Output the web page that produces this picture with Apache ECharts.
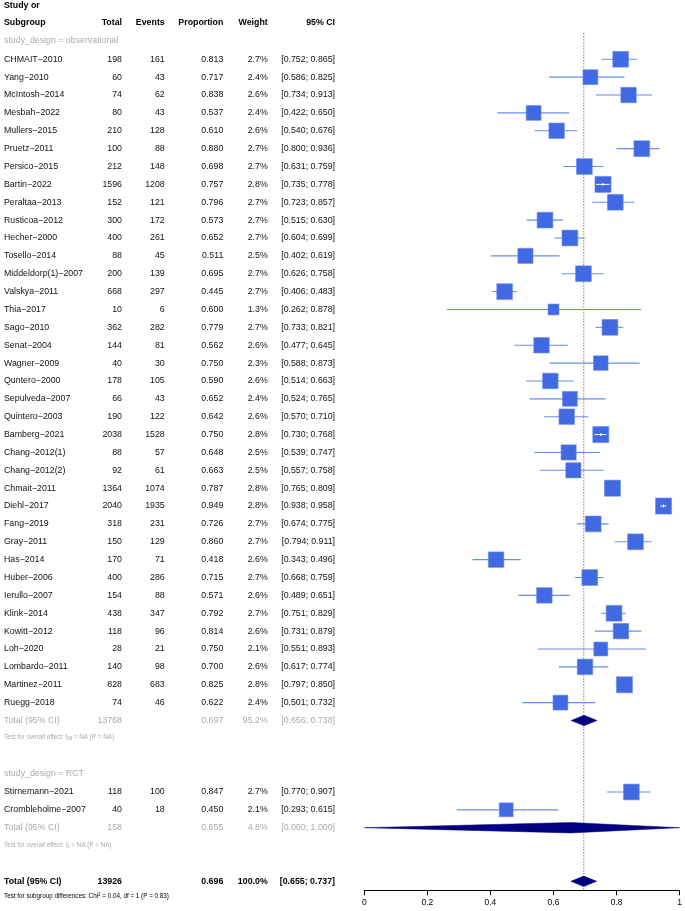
<!DOCTYPE html>
<html><head><meta charset="utf-8">
<script src="https://cdn.jsdelivr.net/npm/echarts@6/dist/echarts.min.js"></script>
<style>html,body{margin:0;padding:0;background:#fff}#c{width:685px;height:911px}</style>
</head><body><div id="c"></div>
<script>
// ---------------- DATA ----------------
const obsStudies = ["CHMAIT−2010","Yang−2010","McIntosh−2014","Mesbah−2022","Mullers−2015","Pruetz−2011","Persico−2015","Bartin−2022","Peraltaa−2013","Rusticoa−2012","Hecher−2000","Tosello−2014","Middeldorp(1)−2007","Valskya−2011","Thia−2017","Sago−2010","Senat−2004","Wagner−2009","Quntero−2000","Sepulveda−2007","Quintero−2003","Bamberg−2021","Chang−2012(1)","Chang−2012(2)","Chmait−2011","Diehl−2017","Fang−2019","Gray−2011","Has−2014","Huber−2006","Ierullo−2007","Klink−2014","Kowitt−2012","Loh−2020","Lombardo−2011","Martinez−2011","Ruegg−2018"];
const obsTotal = [198,60,74,80,210,100,212,1596,152,300,400,88,200,668,10,362,144,40,178,66,190,2038,88,92,1364,2040,318,150,170,400,154,438,118,28,140,828,74];
const obsEvents = [161,43,62,43,128,88,148,1208,121,172,261,45,139,297,6,282,81,30,105,43,122,1528,57,61,1074,1935,231,129,71,286,88,347,96,21,98,683,46];
const obsProp = [0.813,0.717,0.838,0.537,0.610,0.880,0.698,0.757,0.796,0.573,0.652,0.511,0.695,0.445,0.600,0.779,0.562,0.750,0.590,0.652,0.642,0.750,0.648,0.663,0.787,0.949,0.726,0.860,0.418,0.715,0.571,0.792,0.814,0.750,0.700,0.825,0.622];
const obsWeight = [2.7,2.4,2.6,2.4,2.6,2.7,2.7,2.8,2.7,2.7,2.7,2.5,2.7,2.7,1.3,2.7,2.6,2.3,2.6,2.4,2.6,2.8,2.5,2.5,2.8,2.8,2.7,2.7,2.6,2.7,2.6,2.7,2.6,2.1,2.6,2.8,2.4];
const obsLower = [0.752,0.586,0.734,0.422,0.540,0.800,0.631,0.735,0.723,0.515,0.604,0.402,0.626,0.406,0.262,0.733,0.477,0.588,0.514,0.524,0.570,0.730,0.539,0.557,0.765,0.938,0.674,0.794,0.343,0.668,0.489,0.751,0.731,0.551,0.617,0.797,0.501];
const obsUpper = [0.865,0.825,0.913,0.650,0.676,0.936,0.759,0.778,0.857,0.630,0.699,0.619,0.758,0.483,0.878,0.821,0.645,0.873,0.663,0.765,0.710,0.768,0.747,0.758,0.809,0.958,0.775,0.911,0.496,0.759,0.651,0.829,0.879,0.893,0.774,0.850,0.732];

const rctStudies = ["Stirnemann−2021","Crombleholme−2007"];
const rctTotal = [118,40];
const rctEvents = [100,18];
const rctProp = [0.847,0.450];
const rctWeight = [2.7,2.1];
const rctLower = [0.770,0.293];
const rctUpper = [0.907,0.615];

// summaries: [total, estimate, weight, lower, upper]
const obsSummary = [13768, 0.697, 95.2, 0.656, 0.738];
const rctSummary = [158, 0.655, 4.8, 0.000, 1.000];
const allSummary = [13926, 0.696, 100.0, 0.655, 0.737];

const headers = ["Subgroup","Total","Events","Proportion","Weight","95% CI"];
const subgroupLabels = ["study_design = observational","study_design = RCT"];
const xTicks = [0,0.2,0.4,0.6,0.8,1];

// ---------------- LAYOUT ----------------
const ROW0 = 59.3, ROWH = 17.87, YMIN = -3, YMAX = 46.5;
const gridTop = ROW0 + YMIN*ROWH;
const gridH = (YMAX - YMIN)*ROWH;
const COL = {name:4, total:122, events:164.7, prop:223.3, weight:267.7, ci:335};
const FONT = '"Liberation Sans", Arial, Helvetica, sans-serif';
const GRAY = '#aaaaaa';

const f3 = v => v.toFixed(3);
const pct = v => v.toFixed(1) + '%';
const ci = (l,u) => '[' + f3(l) + '; ' + f3(u) + ']';

const texts = [];
function T(x,row,text,align,kind){ texts.push({x,row,text,align,kind}); }
T(COL.name,-2.98,'Study or','left','head');
T(COL.name,-2.05,headers[0],'left','head');
T(COL.total,-2.05,headers[1],'right','head');
T(COL.events,-2.05,headers[2],'right','head');
T(COL.prop,-2.05,headers[3],'right','head');
T(COL.weight,-2.05,headers[4],'right','head');
T(COL.ci,-2.05,headers[5],'right','head');

function studyRows(names,tot,ev,p,w,lo,hi,startRow){
  names.forEach((n,i)=>{
    const r = startRow + i;
    T(COL.name,r,n,'left','study');
    T(COL.total,r,String(tot[i]),'right','study');
    T(COL.events,r,String(ev[i]),'right','study');
    T(COL.prop,r,f3(p[i]),'right','study');
    T(COL.weight,r,pct(w[i]),'right','study');
    T(COL.ci,r,ci(lo[i],hi[i]),'right','study');
  });
}
function totalRow(s,row,kind){
  T(COL.name,row,'Total (95% CI)','left',kind);
  T(COL.total,row,String(s[0]),'right',kind);
  T(COL.prop,row,f3(s[1]),'right',kind);
  T(COL.weight,row,pct(s[2]),'right',kind);
  T(COL.ci,row,ci(s[3],s[4]),'right',kind);
}
const obsStart = 0;
const rctStart = 41;
T(COL.name,-1.04,subgroupLabels[0],'left','sub');
studyRows(obsStudies,obsTotal,obsEvents,obsProp,obsWeight,obsLower,obsUpper,obsStart);
const obsTotRow = obsStart + obsStudies.length;
totalRow(obsSummary,obsTotRow,'total');
T(COL.name,obsTotRow+0.93,'Test for overall effect: t{sub|' + (obsStudies.length-1) + '} = NA (P = NA)','left','note');
T(COL.name,rctStart-1.04,subgroupLabels[1],'left','sub');
studyRows(rctStudies,rctTotal,rctEvents,rctProp,rctWeight,rctLower,rctUpper,rctStart);
const rctTotRow = rctStart + rctStudies.length;
totalRow(rctSummary,rctTotRow,'total');
T(COL.name,rctTotRow+0.97,'Test for overall effect: t{sub|' + (rctStudies.length-1) + '} = NA (P = NA)','left','note');
const allRow = rctTotRow + 3;
totalRow(allSummary,allRow,'grand');
T(COL.name,allRow+0.85,'Test for subgroup differences: Chi{sup|2} = 0.04, df = 1 (P = 0.83)','left','gnote');

const kindStyle = {
  head:{fill:'#000',fontSize:8.8,fontWeight:'bold'},
  study:{fill:'#111',fontSize:8.8,fontWeight:'normal'},
  sub:{fill:GRAY,fontSize:8.8,fontWeight:'normal'},
  total:{fill:GRAY,fontSize:8.8,fontWeight:'normal'},
  grand:{fill:'#000',fontSize:8.8,fontWeight:'bold'},
  note:{fill:GRAY,fontSize:6.3,fontWeight:'normal'},
  gnote:{fill:'#000',fontSize:6.3,fontWeight:'normal'}
};

// study marks
const studyData = [];
obsStudies.forEach((n,i)=>studyData.push([obsProp[i], obsStart+i, obsLower[i], obsUpper[i], obsWeight[i]]));
rctStudies.forEach((n,i)=>studyData.push([rctProp[i], rctStart+i, rctLower[i], rctUpper[i], rctWeight[i]]));
const diamondData = [
  [obsSummary[1], obsTotRow, obsSummary[3], obsSummary[4]],
  [rctSummary[1], rctTotRow, rctSummary[3], rctSummary[4]],
  [allSummary[1], allRow, allSummary[3], allSummary[4]]
];

const chart = echarts.init(document.getElementById('c'));
chart.setOption({
  animation:false,
  backgroundColor:'#fff',
  grid:[
    {left:0, top:gridTop, width:345, height:gridH},
    {left:364.3, top:gridTop, width:317, height:gridH}
  ],
  xAxis:[
    {gridIndex:0, type:'value', min:0, max:345, show:false},
    {gridIndex:1, type:'value', min:xTicks[0], max:xTicks[xTicks.length-1], interval:0.2,
     axisLine:{show:true, onZero:false, lineStyle:{color:'#000', width:1}},
     axisTick:{show:true, length:5, lineStyle:{color:'#000'}},
     axisLabel:{show:true, color:'#000', fontSize:8.5, fontFamily:FONT, margin:8,
       formatter:v=>String(+v.toFixed(1))},
     splitLine:{show:false}}
  ],
  yAxis:[
    {gridIndex:0, type:'value', min:YMIN, max:YMAX, inverse:true, show:false},
    {gridIndex:1, type:'value', min:YMIN, max:YMAX, inverse:true, show:false}
  ],
  series:[
    {
      type:'custom', xAxisIndex:0, yAxisIndex:0, silent:true,
      data: texts.map((t,i)=>[t.x,t.row,i]),
      renderItem:(params,api)=>{
        const t = texts[params.dataIndex];
        const p = api.coord([t.x, t.row]);
        const st = kindStyle[t.kind];
        return {type:'text', x:p[0], y:p[1], style:{
          text:t.text, fill:st.fill, fontSize:st.fontSize, fontWeight:st.fontWeight,
          fontFamily:FONT, align:t.align, verticalAlign:'middle',
          rich:{
            sub:{fontSize:st.fontSize*0.7, fill:st.fill, fontFamily:FONT, verticalAlign:'bottom', padding:[3,0,0,0]},
            sup:{fontSize:st.fontSize*0.7, fill:st.fill, fontFamily:FONT, verticalAlign:'top', padding:[0,0,3,0]}
          }
        }};
      }
    },
    {
      type:'line', xAxisIndex:1, yAxisIndex:1, silent:true, symbol:'none', z:1,
      data:[[allSummary[1], -1.45],[allSummary[1], YMAX]],
      lineStyle:{color:'#444', width:1, type:[1,2]}
    },
    {
      type:'custom', xAxisIndex:1, yAxisIndex:1, silent:true, z:3,
      data: diamondData,
      renderItem:(params,api)=>{
        const c = api.coord([api.value(0), api.value(1)]);
        const l = api.coord([api.value(2), api.value(1)]);
        const r = api.coord([api.value(3), api.value(1)]);
        const h = 5.2;
        return {type:'polygon', shape:{points:[[l[0],c[1]],[c[0],c[1]-h],[r[0],c[1]],[c[0],c[1]+h]]},
          style:{fill:'#000080', stroke:'#000080', lineWidth:0.5}};
      }
    },
    {
      type:'custom', xAxisIndex:1, yAxisIndex:1, silent:true, z:4,
      data: studyData,
      renderItem:(params,api)=>{
        const c = api.coord([api.value(0), api.value(1)]);
        const l = api.coord([api.value(2), api.value(1)]);
        const r = api.coord([api.value(3), api.value(1)]);
        const s = 9.6*Math.sqrt(api.value(4));
        const children = [
          {type:'line', shape:{x1:l[0], y1:c[1], x2:r[0], y2:c[1]}, style:{stroke:'#6a8bec', lineWidth:1.1}},
          {type:'rect', shape:{x:c[0]-s/2, y:c[1]-s/2, width:s, height:s}, style:{fill:'#4169E1', stroke:'#6a8bec', lineWidth:0.6}}
        ];
        if (r[0]-l[0] < s-2.3) {
          children.push({type:'line', shape:{x1:l[0], y1:c[1], x2:r[0], y2:c[1]}, style:{stroke:'#fff', lineWidth:1}});
          children.push({type:'line', shape:{x1:c[0], y1:c[1]-1.5, x2:c[0], y2:c[1]+1.5}, style:{stroke:'#fff', lineWidth:1}});
        }
        return {type:'group', children};
      }
    }
  ]
});
</script></body></html>
